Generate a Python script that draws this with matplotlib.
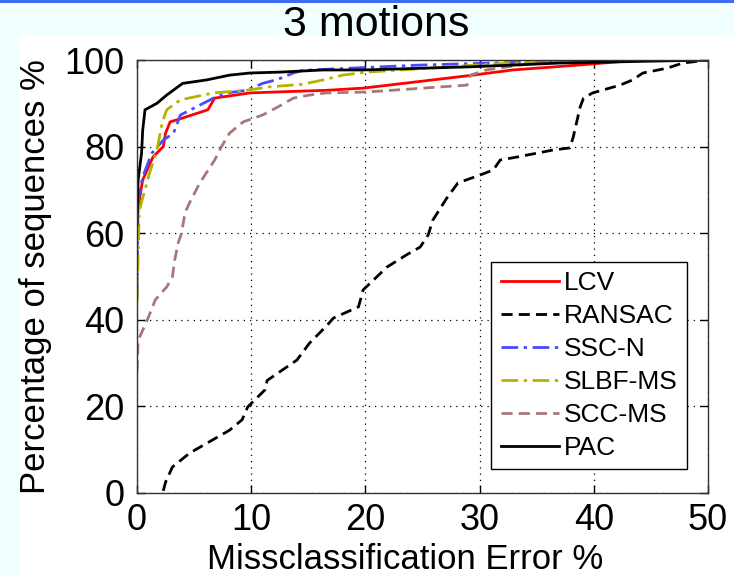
import matplotlib
matplotlib.use('Agg')
from matplotlib import pyplot as plt
from matplotlib.patches import Rectangle

#   data (misclassification error %, percentage of sequences %)
lcv_x = [0.0, 0.0, 0.1, 0.5, 1.4, 2.3, 2.5, 2.9, 4.0, 6.2, 6.8, 9.9, 14.3, 16.6, 19.8, 25.9, 29.4, 32.9, 38.5, 44.0, 50.0]
lcv_y = [58.0, 63.0, 66.0, 72.3, 77.6, 80.0, 83.1, 85.7, 86.6, 88.5, 91.2, 92.4, 92.8, 93.0, 93.5, 95.4, 96.5, 97.7, 98.8, 100.0, 100.0]

ransac_x = [2.3, 2.5, 3.1, 4.6, 8.1, 9.2, 9.7, 11.2, 11.4, 14.0, 15.1, 16.6, 17.2, 19.4, 19.8, 21.9, 23.6, 24.8, 25.5,
            25.9, 27.1, 28.1, 30.0, 31.2, 31.8, 33.3, 36.4, 37.9, 38.2, 38.8, 39.1, 39.9, 42.3, 43.4, 44.3, 46.4, 47.8, 50.0]
ransac_y = [0.5, 2.5, 6.0, 9.2, 14.5, 16.9, 19.9, 23.8, 26.0, 30.7, 34.6, 38.6, 40.4, 43.0, 46.9, 52.2, 55.0, 56.8, 59.6,
            63.0, 68.0, 71.6, 73.4, 74.6, 76.9, 77.6, 79.2, 79.7, 82.2, 89.1, 91.2, 92.4, 94.2, 95.4, 97.0, 98.1, 99.3, 100.0]

sscn_x = [0.0, 0.1, 0.5, 1.3, 2.3, 3.2, 3.8, 6.7, 7.9, 9.6, 11.0, 12.3, 13.7, 14.5, 16.9, 24.5, 31.0, 40.0, 50.0]
sscn_y = [45.0, 67.7, 73.0, 78.5, 81.5, 83.1, 87.3, 91.2, 92.4, 93.0, 94.6, 95.5, 97.0, 97.6, 97.9, 98.8, 99.3, 99.8, 100.0]

slbf_x = [0.0, 0.2, 1.1, 1.75, 2.2, 2.6, 3.8, 6.7, 9.6, 11.6, 14.5, 16.3, 18.0, 20.1, 25.9, 32.7, 42.0, 50.0]
slbf_y = [44.0, 65.3, 73.9, 79.2, 85.5, 88.5, 90.8, 92.4, 93.0, 93.8, 94.4, 95.4, 96.5, 97.2, 98.2, 99.3, 99.8, 100.0]

scc_x = [0.0, 0.1, 0.5, 1.0, 1.6, 2.6, 3.1, 3.3, 3.6, 3.9, 4.2, 4.6, 5.5, 6.8, 7.4, 8.1, 9.3, 11.0, 12.3, 13.7, 15.1,
         16.6, 20.1, 25.0, 28.9, 29.2, 30.6, 34.7, 37.0, 50.0]
scc_y = [28.0, 35.3, 37.6, 40.6, 44.6, 47.6, 49.9, 53.8, 57.7, 60.0, 64.7, 67.0, 71.6, 76.9, 80.0, 83.1, 85.7, 87.3,
         89.1, 91.2, 91.9, 92.4, 92.6, 93.5, 94.2, 96.5, 97.7, 99.3, 100.0, 100.0]

pac_x = [0.0, 0.1, 0.4, 0.5, 0.7, 1.75, 2.6, 4.0, 6.1, 8.1, 9.9, 12.5, 16.3, 19.8, 28.9, 32.7, 37.0, 50.0]
pac_y = [62.0, 72.3, 78.5, 83.8, 88.5, 90.0, 91.9, 94.6, 95.4, 96.5, 97.0, 97.2, 97.7, 97.7, 98.4, 98.8, 99.3, 100.0]

x_ticks = [0, 10, 20, 30, 40, 50]
y_ticks = [0, 20, 40, 60, 80, 100]


def main():

    plt.rcParams['font.family'] = ['Liberation Sans', 'DejaVu Sans']

    fig = plt.figure(figsize=(7.34, 5.75), dpi=100, facecolor='#f2ffff')

    #   slide background: white panel and blue bar on top
    fig.patches.append(Rectangle((19/734, 0), 1, 540/575, transform=fig.transFigure,
                                 facecolor='white', edgecolor='none', zorder=-10))
    fig.patches.append(Rectangle((0, 1 - 3/575), 1, 3/575, transform=fig.transFigure,
                                 facecolor='#3c6cf0', edgecolor='none', zorder=-10))

    ax = fig.add_axes([137/734, 82/575, 571/734, 433/575])
    ax.set_facecolor('white')

    lw = 2.0
    ax.plot(lcv_x, lcv_y, color='#ff0000', lw=lw, label='LCV')
    ax.plot(ransac_x, ransac_y, color='black', lw=lw, ls=(0, (4, 2.2)), label='RANSAC')
    ax.plot(sscn_x, sscn_y, color='#4a4aff', lw=lw, ls=(0, (6, 2, 1.2, 2)), label='SSC-N')
    ax.plot(slbf_x, slbf_y, color='#b4b400', lw=lw, ls=(0, (6, 2, 1.2, 2)), label='SLBF-MS')
    ax.plot(scc_x, scc_y, color='#a87878', lw=lw, ls=(0, (4, 2.2)), label='SCC-MS')
    ax.plot(pac_x, pac_y, color='black', lw=lw, label='PAC')

    ax.set_xlim(0, 50)
    ax.set_ylim(0, 100)
    ax.set_xticks(x_ticks)
    ax.set_yticks(y_ticks)
    ax.grid(True, color='black', ls=(0, (1, 4)), lw=0.9)
    ax.tick_params(direction='in', top=True, right=True, length=6, width=1,
                   labelsize=26)
    ax.tick_params(axis='x', pad=7)
    ax.tick_params(axis='y', pad=9)
    for s in ax.spines.values():
        s.set_linewidth(1.0)
        s.set_color('#333333')

    ax.set_xlabel('Missclassification Error %', fontsize=25)
    ax.xaxis.set_label_coords(0.47, -0.115)
    ax.set_ylabel('Percentage of sequences %', fontsize=25)
    ax.yaxis.set_label_coords(-0.148, 0.5)
    fig.text(376/734, 1 - 25/575, '3 motions', fontsize=31, ha='center', va='center')

    leg = ax.legend(loc='lower right', bbox_to_anchor=(0.963, 0.055), fontsize=19,
                    frameon=True, fancybox=False, edgecolor='black', framealpha=1,
                    handlelength=2.2, handletextpad=0.2, labelspacing=0.34,
                    borderpad=0.35, borderaxespad=0)
    leg.get_frame().set_linewidth(1.0)

    fig.savefig('out.png', dpi=100, facecolor=fig.get_facecolor())

    return

if __name__ == '__main__':
    main()
